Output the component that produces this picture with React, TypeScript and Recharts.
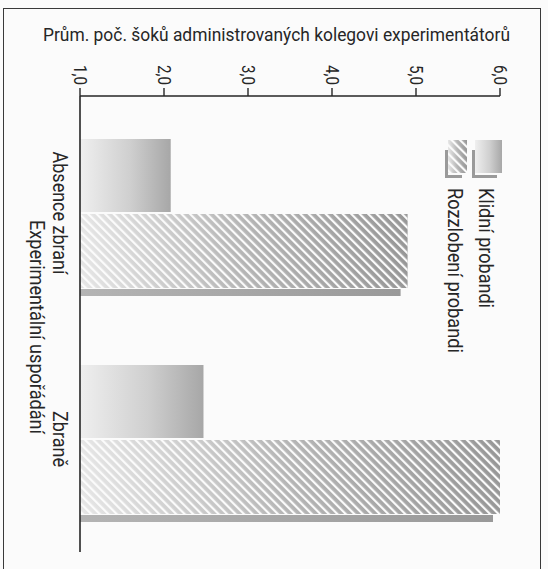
import React from 'react';
import { BarChart, Bar, XAxis, YAxis, Legend } from 'recharts';

const categories = ['Absence zbraní', 'Zbraně'];
const calmValues = [2.08, 2.47];
const angryValues = [4.9, 6.0];
const seriesNames = ['Klidní probandi', 'Rozzlobení probandi'];
const valueTicks = [1, 2, 3, 4, 5, 6];
const valueTickLabels = ['1,0', '2,0', '3,0', '4,0', '5,0', '6,0'];
const valueAxisTitle = 'Prům. poč. šoků administrovaných kolegovi experimentátorů';
const categoryAxisTitle = 'Experimentální uspořádání';

const data = categories.map((c, i) => ({ category: c, calm: calmValues[i], angry: angryValues[i] }));

const FONT = "Roboto, 'Noto Sans', sans-serif";
const INK = '#262626';

// rendered text lengths (px) so the condensed face of the original is matched
const TEXT_LEN: Record<string, number> = {
  [valueAxisTitle]: 467,
  [categoryAxisTitle]: 214,
  'Absence zbraní': 123,
  'Zbraně': 56,
  'Klidní probandi': 120,
  'Rozzlobení probandi': 165,
};
const lenOf = (s: string, fallback: number) => TEXT_LEN[s] ?? fallback;

const ValueTick = (props: any) => {
  const { x, y, payload } = props;
  const i = valueTicks.indexOf(payload.value);
  const label = i >= 0 ? valueTickLabels[i] : String(payload.value);
  return (
    <text
      transform={`translate(${x},${y - 1}) rotate(90)`}
      textAnchor="end"
      dominantBaseline="central"
      fontSize={19}
      fontFamily={FONT}
      fill={INK}
      textLength={20}
      lengthAdjust="spacingAndGlyphs"
    >
      {label}
    </text>
  );
};

const CategoryTick = (props: any) => {
  const { x, y, payload } = props;
  return (
    <text
      transform={`translate(${x - 12},${y}) rotate(90)`}
      textAnchor="middle"
      dominantBaseline="central"
      fontSize={20}
      fontFamily={FONT}
      fill={INK}
      textLength={lenOf(payload.value, 100)}
      lengthAdjust="spacingAndGlyphs"
    >
      {payload.value}
    </text>
  );
};

const TitleLabel = (props: any) => {
  const vb = props.viewBox || { x: 80, y: 36, width: 420, height: 60 };
  const cx = vb.x + vb.width / 2 - 13.5;
  return (
    <text
      x={cx}
      y={vb.y + 5}
      textAnchor="middle"
      fontSize={18}
      fontFamily={FONT}
      fill={INK}
      textLength={lenOf(valueAxisTitle, 467)}
      lengthAdjust="spacingAndGlyphs"
    >
      {valueAxisTitle}
    </text>
  );
};

const CategoryAxisLabel = (props: any) => {
  const vb = props.viewBox || { x: 10, y: 96, width: 70, height: 456 };
  const cy = vb.y + vb.height / 2 + 3;
  return (
    <text
      transform={`translate(${vb.x + 27},${cy}) rotate(90)`}
      textAnchor="middle"
      dominantBaseline="central"
      fontSize={20}
      fontFamily={FONT}
      fill={INK}
      textLength={lenOf(categoryAxisTitle, 214)}
      lengthAdjust="spacingAndGlyphs"
    >
      {categoryAxisTitle}
    </text>
  );
};

const HatchedBar = (props: any) => {
  const { x, y, width, height } = props;
  if (!width || !height) return null;
  return (
    <g>
      <rect x={x} y={y} width={width} height={height} fill="url(#gradHatch)" />
      <rect x={x} y={y} width={width} height={height} fill="url(#stripes)" />
      <rect x={x} y={y + height + 1} width={Math.max(width - 7, 0)} height={7} fill="url(#gradShadow)" />
    </g>
  );
};

const CalmBar = (props: any) => {
  const { x, y, width, height } = props;
  if (!width || !height) return null;
  return <rect x={x} y={y} width={width} height={height} fill="url(#gradCalm)" />;
};

const LegendContent = (props: any) => {
  const payload = props.payload || [];
  const nameOf = (k: string, fb: string) => {
    const p = payload.find((e: any) => e.dataKey === k);
    return p ? p.value : fb;
  };
  const calmName = nameOf('calm', seriesNames[0]);
  const angryName = nameOf('angry', seriesNames[1]);
  return (
    <svg width={90} height={240} style={{ overflow: 'visible' }}>
      <rect x={5} y={20} width={3} height={27} fill="#9a9a9a" />
      <rect x={5} y={45} width={17} height={3} fill="#9a9a9a" />
      <rect x={8} y={10} width={19} height={33} fill="url(#gradHatch)" />
      <rect x={8} y={10} width={19} height={33} fill="url(#stripes)" />
      <rect x={32} y={20} width={3} height={27} fill="#9a9a9a" />
      <rect x={32} y={45} width={25} height={3} fill="#9a9a9a" />
      <rect x={35} y={10} width={27} height={33} fill="url(#gradCalm)" />
      <text
        transform={`translate(46,58) rotate(90)`}
        textAnchor="start"
        dominantBaseline="central"
        fontSize={20}
        fontFamily={FONT}
        fill={INK}
        textLength={lenOf(calmName, 120)}
        lengthAdjust="spacingAndGlyphs"
      >
        {calmName}
      </text>
      <text
        transform={`translate(15,58) rotate(90)`}
        textAnchor="start"
        dominantBaseline="central"
        fontSize={20}
        fontFamily={FONT}
        fill={INK}
        textLength={lenOf(angryName, 165)}
        lengthAdjust="spacingAndGlyphs"
      >
        {angryName}
      </text>
    </svg>
  );
};

export default function App() {
  return (
    <div style={{ position: 'absolute', left: 0, top: 0, width: 548, height: 569, background: '#fbfbfb', overflow: 'hidden' }}>
      <div
        style={{
          position: 'absolute',
          left: 3,
          top: 8,
          width: 536,
          height: 620,
          border: '1.5px solid #3a3a3a',
        }}
      />
      <div style={{ position: 'absolute', left: 0, top: 0 }}>
        <BarChart
          width={548}
          height={569}
          data={data}
          layout="vertical"
          margin={{ top: 36, right: 48, bottom: 17, left: 10 }}
          barGap={2}
        >
          <defs>
            <linearGradient id="gradCalm" x1="0" y1="0" x2="1" y2="0">
              <stop offset="0%" stopColor="#efefef" />
              <stop offset="55%" stopColor="#cfcfcf" />
              <stop offset="100%" stopColor="#a7a7a7" />
            </linearGradient>
            <linearGradient id="gradHatch" x1="0" y1="0" x2="1" y2="0">
              <stop offset="0%" stopColor="#e6e6e6" />
              <stop offset="50%" stopColor="#b5b5b5" />
              <stop offset="100%" stopColor="#979797" />
            </linearGradient>
            <linearGradient id="gradShadow" x1="0" y1="0" x2="1" y2="0">
              <stop offset="0%" stopColor="#b4b4b4" />
              <stop offset="100%" stopColor="#999999" />
            </linearGradient>
            <pattern id="stripes" patternUnits="userSpaceOnUse" width={6} height={10} patternTransform="rotate(-45)">
              <rect x={0} y={0} width={2.2} height={10} fill="#fbfbfb" />
            </pattern>
          </defs>
          <XAxis
            type="number"
            orientation="top"
            domain={[1, 6]}
            ticks={valueTicks}
            allowDataOverflow
            height={60}
            tickSize={8}
            tickMargin={2}
            axisLine={{ stroke: INK, strokeWidth: 1.4 }}
            tickLine={{ stroke: INK, strokeWidth: 1.4 }}
            tick={<ValueTick />}
            label={(p: any) => <TitleLabel {...p} />}
          />
          <YAxis
            type="category"
            dataKey="category"
            width={70}
            padding={{ top: 4, bottom: 0 }}
            axisLine={{ stroke: INK, strokeWidth: 1.6 }}
            tickLine={false}
            tick={<CategoryTick />}
            label={(p: any) => <CategoryAxisLabel {...p} />}
          />
          <Legend
            layout="horizontal"
            verticalAlign="middle"
            align="center"
            wrapperStyle={{ position: 'absolute', left: 440, top: 130, width: 90, height: 240 }}
            content={<LegendContent />}
          />
          <Bar dataKey="calm" name={seriesNames[0]} barSize={73} fill="#c8c8c8" shape={<CalmBar />} isAnimationActive={false} />
          <Bar dataKey="angry" name={seriesNames[1]} barSize={74} fill="#b0b0b0" shape={<HatchedBar />} isAnimationActive={false} />
        </BarChart>
      </div>
    </div>
  );
}
